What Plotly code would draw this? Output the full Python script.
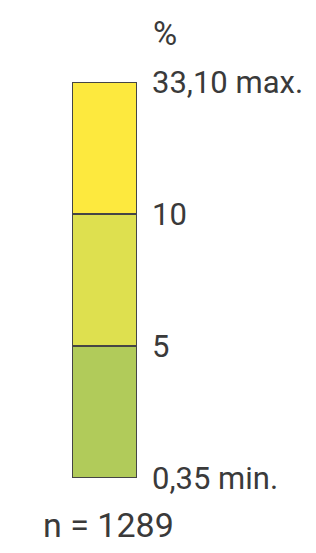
import plotly.graph_objects as go

# Class boundaries (labels) and segments
boundary_labels = ["0,35 min.", "5", "10", "33,10 max."]
segment_names = ["0,35–5", "5–10", "10–33,10"]
segment_colors = ["#b1cb5a", "#dee04f", "#fde93e"]
unit_label = "%"
n_label = "n = 1289"

FONT = "Roboto, Liberation Sans, sans-serif"
TEXT_COLOR = "#3a3a3a"

fig = go.Figure()
for i, (name, col) in enumerate(zip(segment_names, segment_colors)):
    fig.add_trace(go.Bar(
        x=[0], y=[1], base=[i], name=name,
        marker=dict(color=col, line=dict(color="#454545", width=2)),
        width=1, showlegend=False, hoverinfo="name",
    ))

fig.update_layout(
    width=308, height=545,
    margin=dict(l=64, r=179, t=74, b=75),
    paper_bgcolor="white", plot_bgcolor="white",
    barmode="overlay",
    font=dict(family=FONT, color=TEXT_COLOR, size=31),
    xaxis=dict(range=[-0.5, 0.5], visible=False, fixedrange=True),
    yaxis=dict(
        range=[0, len(segment_names)], side="right",
        tickvals=list(range(len(boundary_labels))), ticktext=boundary_labels,
        showgrid=False, zeroline=False, showline=False, ticks="",
        ticklabelstandoff=14,
        tickfont=dict(family=FONT, size=31, color=TEXT_COLOR),
        fixedrange=True, automargin=False,
    ),
    annotations=[
        dict(text=unit_label, xref="paper", yref="paper", x=1, y=1.0,
             xshift=14, yshift=49, xanchor="left", yanchor="middle", showarrow=False,
             font=dict(family=FONT, size=33, color=TEXT_COLOR)),
        dict(text=n_label, xref="paper", yref="paper", x=0, y=0,
             xshift=-31, yshift=-47, xanchor="left", yanchor="middle", showarrow=False,
             font=dict(family=FONT, size=34, color=TEXT_COLOR)),
    ],
)

fig.write_html("out.html")
